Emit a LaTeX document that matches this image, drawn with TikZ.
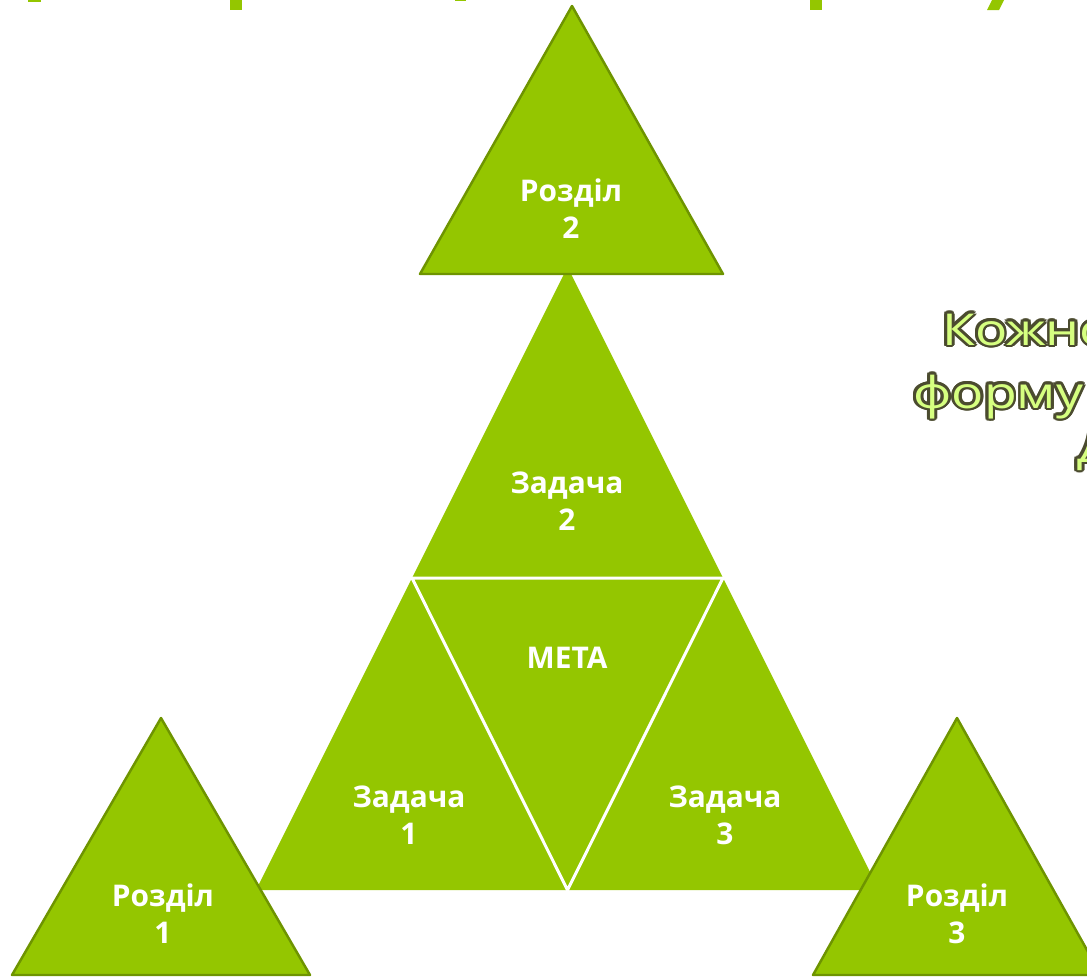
\documentclass[tikz,border=0pt]{standalone}
\usepackage{fontspec}
\setmainfont{Open Sans}
\newfontfamily\notefont[FakeStretch=1.22]{Open Sans}
\usepackage{contour}
\contourlength{1.6pt}
\definecolor{leaf}{HTML}{94C600}
\definecolor{leafdark}{HTML}{6E9400}
\definecolor{notefill}{HTML}{D6FF80}
\definecolor{notedark}{HTML}{4B4B2F}
\tikzset{
  razdil/.style={fill=leaf, draw=leafdark, line width=1.4pt, line join=round},
  sep/.style={draw=white, line width=1.7pt},
  lbl/.style={text=white, font=\bfseries\fontsize{17}{21}\selectfont, align=center},
  note/.style={anchor=base west, inner sep=0pt, text=notefill, font=\notefont\fontsize{25}{30}\selectfont}
}
\begin{document}
\begin{tikzpicture}[x=0.02cm, y=-0.02cm]
\useasboundingbox (0,0) rectangle (1087,977);
\clip (0,0) rectangle (1087,977);
% bits of the title
\fill[leaf] (28,0) rectangle (41,2);
\fill[leaf] (230,0) rectangle (242,10);
\fill[leaf] (455,0) rectangle (466,1);
\fill[leaf] (810,0) rectangle (822,10);
\fill[leaf] (992,0) -- (1004,0) -- (999,10) -- (987,10) -- cycle;
% big triangle
\coordinate (apex) at (567.5,267);
\coordinate (ml) at (412,578);
\coordinate (mr) at (723,578);
\coordinate (bl) at (256,890);
\coordinate (bm) at (567.5,890);
\coordinate (br) at (879,890);
\fill[leaf] (apex) -- (br) -- (bl) -- cycle;
\draw[sep] (ml) -- (mr) -- (bm) -- cycle;
% sections
\draw[razdil] (572,6) -- (723,274) -- (420,274) -- cycle;
\draw[razdil] (161,718) -- (310,975) -- (12,975) -- cycle;
\draw[razdil] (957,718) -- (1101,975) -- (813,975) -- cycle;
% labels
\node[lbl] (r2) at (571,209) {Розділ\\2};
\node[lbl] (z2) at (567,501) {Задача\\2};
\node[lbl] (meta) at (567,658) {МЕТА};
\node[lbl] (z1) at (409,815) {Задача\\1};
\node[lbl] (z3) at (725,815) {Задача\\3};
\node[lbl] (r1) at (163,914) {Розділ\\1};
\node[lbl] (r3) at (957,914) {Розділ\\3};
% text on the right
\node[note] (n1) at (942,345) {\contour{notedark}{Кожно}};
\node[note] (n2) at (913,408) {\contour{notedark}{форму}};
\node[note] (n3) at (1077,462) {\contour{notedark}{Д}};
\end{tikzpicture}
\end{document}
